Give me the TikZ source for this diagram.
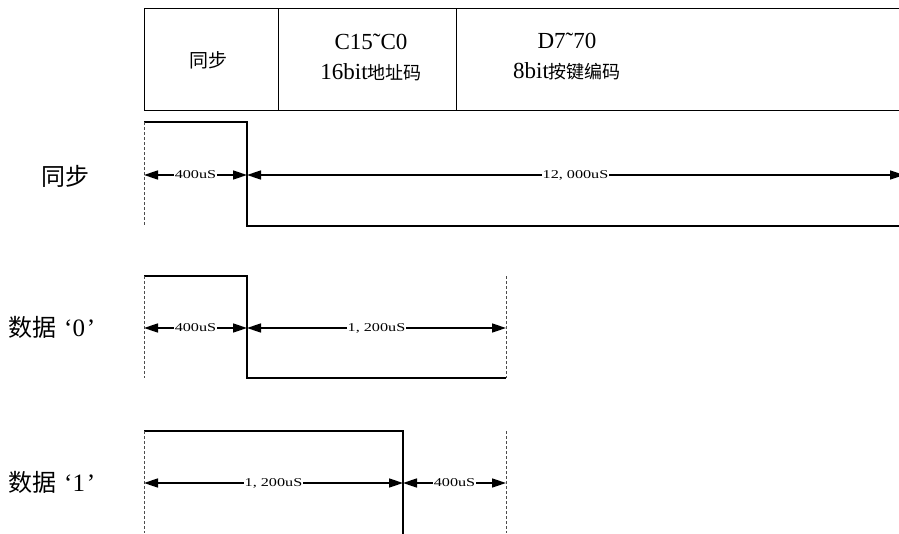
\documentclass[tikz,border=0pt]{standalone}
\usepackage{fontspec}
\setmainfont{Liberation Serif}
\newfontfamily\cjk{Noto Sans CJK SC}
\newfontfamily\widefont[FakeStretch=1.35]{Liberation Serif}
\usetikzlibrary{arrows.meta}
\begin{document}
\begin{tikzpicture}[x=1pt,y=-1pt,
  cellline/.style={draw=black,line width=0.9pt},
  sig/.style={draw=black,line width=2pt},
  guide/.style={draw=black!70,line width=0.6pt,dash pattern=on 3pt off 2pt},
  dim/.style={draw=black,line width=1.6pt,{Triangle[length=14pt,width=9pt]}-{Triangle[length=14pt,width=9pt]}},
  dimlab/.style={fill=white,inner sep=0.5pt,font=\fontsize{12}{12}\selectfont\widefont},
  celltext/.style={align=center,font=\fontsize{23}{30}\selectfont},
  rowlab/.style={font=\fontsize{24}{26}\selectfont\cjk},
  datalab/.style={anchor=west,inner sep=0pt,font=\fontsize{25}{26}\selectfont}]
\useasboundingbox (0,0) rectangle (899,533);
% table
\coordinate (tl) at (144,8);
\coordinate (tr) at (905,8);
\coordinate (bl) at (144,110);
\coordinate (br) at (905,110);
\coordinate (d1t) at (278.5,8);
\coordinate (d1b) at (278.5,110);
\coordinate (d2t) at (456,8);
\coordinate (d2b) at (456,110);
\draw[cellline] (tr) -- (tl) -- (bl) -- (br);
\draw[cellline] (d1t) -- (d1b);
\draw[cellline] (d2t) -- (d2b);
\node[font=\fontsize{19}{20}\selectfont\cjk] (t1) at (208,60) {同步};
\node[celltext] (t2) at (371,57) {C15˜C0\\{16bit}{\fontsize{18}{30}\selectfont\cjk 地址码}};
\node[celltext] (t3) at (567,57) {D7˜70\\{8bit}{\fontsize{18}{30}\selectfont\cjk 按键编码}};
% row 1: sync
\node[rowlab] (l1) at (65,176) {同步};
\coordinate (a1) at (144,122);
\coordinate (a2) at (247,122);
\coordinate (a3) at (247,226);
\coordinate (a4) at (905,226);
\coordinate (a5) at (144,226);
\draw[sig] (a1) -- (a2) -- (a3) -- (a4);
\draw[guide] (a1) -- (a5);
\coordinate (m1) at (144,175);
\coordinate (m2) at (247,175);
\coordinate (m3) at (904,175);
\draw[dim] (m1) -- node[dimlab] (n1) {400uS} (m2);
\draw[dim] (m2) -- node[dimlab] (n2) {12, 000uS} (m3);
% row 2: data 0
\node[datalab] (l2) at (8,327) {{\fontsize{24}{26}\selectfont\cjk 数据}\hspace{8pt}‘0\kern2pt’};
\coordinate (b1) at (144,276);
\coordinate (b2) at (247,276);
\coordinate (b3) at (247,378);
\coordinate (b4) at (506,378);
\coordinate (b5) at (144,378);
\coordinate (b6) at (506,276);
\draw[sig] (b1) -- (b2) -- (b3) -- (b4);
\draw[guide] (b1) -- (b5);
\draw[guide] (b6) -- (b4);
\coordinate (p1) at (144,328);
\coordinate (p2) at (247,328);
\coordinate (p3) at (506,328);
\draw[dim] (p1) -- node[dimlab] (n3) {400uS} (p2);
\draw[dim] (p2) -- node[dimlab] (n4) {1, 200uS} (p3);
% row 3: data 1
\node[datalab] (l3) at (8,482) {{\fontsize{24}{26}\selectfont\cjk 数据}\hspace{8pt}‘1\kern2pt’};
\coordinate (c1) at (144,431);
\coordinate (c2) at (403,431);
\coordinate (c3) at (403,540);
\coordinate (c5) at (144,533);
\coordinate (c6) at (506,431);
\coordinate (c7) at (506,533);
\draw[sig] (c1) -- (c2) -- (c3);
\draw[guide] (c1) -- (c5);
\draw[guide] (c6) -- (c7);
\coordinate (q1) at (144,483);
\coordinate (q2) at (403,483);
\coordinate (q3) at (506,483);
\draw[dim] (q1) -- node[dimlab] (n5) {1, 200uS} (q2);
\draw[dim] (q2) -- node[dimlab] (n6) {400uS} (q3);
\end{tikzpicture}
\end{document}
